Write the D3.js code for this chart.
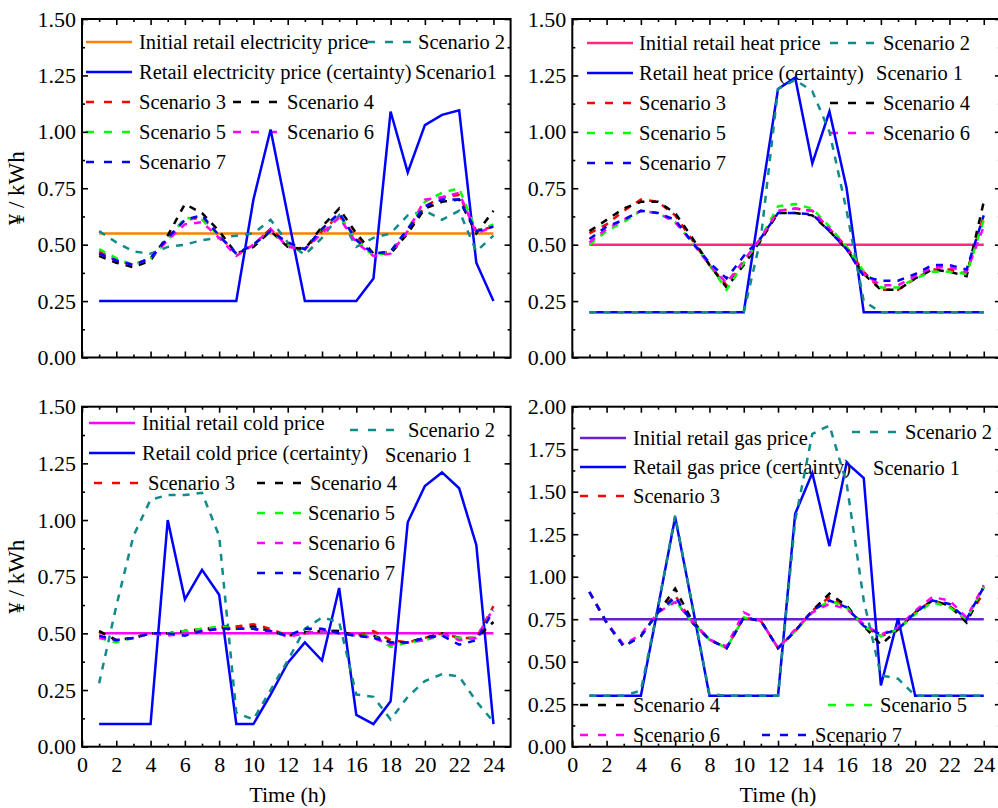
<!DOCTYPE html>
<html><head><meta charset="utf-8">
<script src="https://cdn.jsdelivr.net/npm/d3@7"></script>
<style>
body{margin:0;background:#fff}
text{font-family:"Liberation Serif","Times New Roman",serif;fill:#000}
</style>
</head><body>
<svg id="chart" width="998" height="808"></svg>
<script>
const hours = [1,2,3,4,5,6,7,8,9,10,11,12,13,14,15,16,17,18,19,20,21,22,23,24];
const xMajorTicks = [0,2,4,6,8,10,12,14,16,18,20,22,24];
const xMinorTicks = [1,3,5,7,9,11,13,15,17,19,21,23];
const yTicks15 = [0,0.25,0.5,0.75,1.0,1.25,1.5];
const yTicks20 = [0,0.25,0.5,0.75,1.0,1.25,1.5,1.75,2.0];

// ---- Electricity ----
const elecInit = [0.55,0.55,0.55,0.55,0.55,0.55,0.55,0.55,0.55,0.55,0.55,0.55,0.55,0.55,0.55,0.55,0.55,0.55,0.55,0.55,0.55,0.55,0.55,0.55];
const elecS1 = [0.25,0.25,0.25,0.25,0.25,0.25,0.25,0.25,0.25,0.70,1.01,0.63,0.25,0.25,0.25,0.25,0.35,1.09,0.82,1.03,1.075,1.095,0.42,0.25];
const elecS2 = [0.56,0.51,0.47,0.46,0.49,0.50,0.52,0.53,0.54,0.55,0.61,0.51,0.455,0.53,0.63,0.49,0.53,0.55,0.63,0.65,0.61,0.65,0.47,0.54];
const elecS3 = [0.47,0.43,0.41,0.44,0.53,0.61,0.62,0.54,0.46,0.50,0.57,0.50,0.48,0.56,0.63,0.53,0.46,0.47,0.56,0.67,0.71,0.72,0.56,0.58];
const elecS4 = [0.45,0.42,0.40,0.43,0.54,0.68,0.64,0.56,0.46,0.49,0.56,0.49,0.48,0.58,0.66,0.55,0.46,0.46,0.55,0.66,0.69,0.70,0.55,0.65];
const elecS5 = [0.48,0.44,0.41,0.44,0.52,0.62,0.61,0.54,0.46,0.50,0.56,0.50,0.48,0.57,0.63,0.52,0.45,0.47,0.57,0.69,0.73,0.75,0.56,0.59];
const elecS6 = [0.46,0.43,0.41,0.44,0.52,0.59,0.60,0.53,0.45,0.50,0.57,0.49,0.48,0.55,0.62,0.51,0.45,0.46,0.56,0.70,0.71,0.73,0.55,0.58];
const elecS7 = [0.46,0.43,0.41,0.44,0.53,0.61,0.63,0.54,0.46,0.50,0.56,0.51,0.48,0.57,0.64,0.52,0.46,0.47,0.57,0.67,0.70,0.70,0.56,0.58];

// ---- Heat ----
const heatInit = [0.5,0.5,0.5,0.5,0.5,0.5,0.5,0.5,0.5,0.5,0.5,0.5,0.5,0.5,0.5,0.5,0.5,0.5,0.5,0.5,0.5,0.5,0.5,0.5];
const heatS1 = [0.2,0.2,0.2,0.2,0.2,0.2,0.2,0.2,0.2,0.2,0.70,1.19,1.24,0.86,1.09,0.75,0.2,0.2,0.2,0.2,0.2,0.2,0.2,0.2];
const heatS2 = [0.2,0.2,0.2,0.2,0.2,0.2,0.2,0.2,0.2,0.2,0.53,1.19,1.23,1.18,1.00,0.65,0.25,0.2,0.2,0.2,0.2,0.2,0.2,0.2];
const heatS3 = [0.55,0.59,0.65,0.70,0.69,0.63,0.52,0.41,0.32,0.42,0.52,0.65,0.66,0.65,0.57,0.49,0.38,0.30,0.30,0.35,0.39,0.39,0.37,0.63];
const heatS4 = [0.56,0.61,0.66,0.69,0.69,0.64,0.53,0.41,0.31,0.41,0.52,0.64,0.64,0.63,0.56,0.48,0.37,0.30,0.30,0.35,0.39,0.38,0.36,0.69];
const heatS5 = [0.50,0.56,0.60,0.65,0.64,0.60,0.51,0.41,0.30,0.42,0.53,0.67,0.68,0.66,0.58,0.49,0.38,0.31,0.31,0.35,0.38,0.38,0.37,0.61];
const heatS6 = [0.51,0.57,0.61,0.65,0.64,0.60,0.51,0.41,0.33,0.43,0.53,0.65,0.66,0.65,0.57,0.48,0.37,0.32,0.32,0.36,0.40,0.40,0.38,0.58];
const heatS7 = [0.525,0.58,0.61,0.65,0.64,0.61,0.51,0.42,0.35,0.45,0.53,0.64,0.64,0.635,0.56,0.48,0.36,0.34,0.34,0.37,0.41,0.41,0.39,0.63];

// ---- Cold ----
const coldInit = [0.5,0.5,0.5,0.5,0.5,0.5,0.5,0.5,0.5,0.5,0.5,0.5,0.5,0.5,0.5,0.5,0.5,0.5,0.5,0.5,0.5,0.5,0.5,0.5];
const coldS1 = [0.10,0.10,0.10,0.10,1.00,0.65,0.78,0.67,0.10,0.10,0.23,0.37,0.46,0.38,0.70,0.14,0.10,0.20,0.99,1.15,1.21,1.14,0.89,0.10];
const coldS2 = [0.28,0.62,0.93,1.09,1.11,1.11,1.12,0.93,0.15,0.12,0.25,0.38,0.52,0.57,0.55,0.23,0.22,0.12,0.22,0.29,0.32,0.31,0.20,0.11];
const coldS3 = [0.51,0.47,0.48,0.50,0.50,0.51,0.51,0.53,0.53,0.54,0.52,0.49,0.50,0.51,0.51,0.49,0.51,0.47,0.46,0.48,0.50,0.48,0.48,0.62];
const coldS4 = [0.51,0.47,0.48,0.50,0.50,0.51,0.52,0.525,0.52,0.53,0.51,0.49,0.505,0.51,0.51,0.49,0.49,0.46,0.46,0.48,0.50,0.48,0.48,0.55];
const coldS5 = [0.48,0.46,0.48,0.50,0.50,0.51,0.52,0.53,0.52,0.52,0.51,0.49,0.50,0.51,0.50,0.49,0.49,0.44,0.46,0.47,0.49,0.48,0.48,0.61];
const coldS6 = [0.48,0.47,0.48,0.50,0.49,0.50,0.51,0.52,0.52,0.52,0.51,0.485,0.50,0.51,0.50,0.49,0.48,0.45,0.46,0.47,0.50,0.47,0.48,0.61];
const coldS7 = [0.49,0.47,0.48,0.50,0.50,0.49,0.51,0.52,0.52,0.52,0.51,0.49,0.52,0.52,0.50,0.49,0.48,0.46,0.46,0.48,0.49,0.45,0.47,0.60];

// ---- Gas ----
const gasInit = [0.75,0.75,0.75,0.75,0.75,0.75,0.75,0.75,0.75,0.75,0.75,0.75,0.75,0.75,0.75,0.75,0.75,0.75,0.75,0.75,0.75,0.75,0.75,0.75];
const gasS1 = [0.30,0.30,0.30,0.30,0.82,1.35,0.83,0.30,0.30,0.30,0.30,0.30,1.37,1.61,1.18,1.67,1.58,0.36,0.755,0.30,0.30,0.30,0.30,0.30];
const gasS2 = [0.30,0.30,0.30,0.33,0.82,1.36,0.83,0.31,0.30,0.30,0.30,0.30,1.33,1.84,1.89,1.55,0.86,0.42,0.40,0.30,0.30,0.30,0.30,0.30];
const gasS3 = [0.91,0.73,0.59,0.65,0.79,0.89,0.73,0.63,0.58,0.76,0.74,0.58,0.68,0.80,0.88,0.82,0.71,0.65,0.69,0.79,0.86,0.83,0.74,0.91];
const gasS4 = [0.91,0.73,0.59,0.65,0.79,0.93,0.74,0.63,0.58,0.76,0.74,0.58,0.68,0.80,0.90,0.83,0.71,0.60,0.69,0.79,0.86,0.83,0.73,0.94];
const gasS5 = [0.91,0.73,0.59,0.65,0.79,0.86,0.73,0.63,0.58,0.76,0.74,0.58,0.68,0.79,0.86,0.82,0.71,0.65,0.69,0.78,0.85,0.82,0.75,0.94];
const gasS6 = [0.91,0.73,0.60,0.66,0.79,0.85,0.74,0.63,0.59,0.79,0.74,0.58,0.69,0.79,0.84,0.81,0.72,0.66,0.70,0.80,0.88,0.86,0.76,0.95];
const gasS7 = [0.91,0.73,0.59,0.65,0.79,0.88,0.73,0.63,0.58,0.76,0.74,0.58,0.68,0.80,0.86,0.82,0.71,0.66,0.69,0.79,0.86,0.84,0.75,0.94];

const C = {
  s1:'#0000ff', s2:'#108a8a', s3:'#ff0000', s4:'#000000', s5:'#00ff00', s6:'#ff00ff', s7:'#0000ff',
  elec:'#ff8000', heat:'#ff2a80', cold:'#ff00ff', gas:'#6a1fc8'
};
const DASH = '7,7';

function seriesSet(init, initColor, s1,s2,s3,s4,s5,s6,s7){
  return [
    {values:init, color:initColor, dash:null},
    {values:s1, color:C.s1, dash:null},
    {values:s2, color:C.s2, dash:DASH},
    {values:s3, color:C.s3, dash:DASH},
    {values:s4, color:C.s4, dash:DASH},
    {values:s5, color:C.s5, dash:DASH},
    {values:s6, color:C.s6, dash:DASH},
    {values:s7, color:C.s7, dash:DASH}
  ];
}

const panels = [
  {left:82, top:19, height:338.5, ymax:1.5, yTicks:yTicks15, xLabels:false, yTitle:true,
   series: seriesSet(elecInit, C.elec, elecS1, elecS2, elecS3, elecS4, elecS5, elecS6, elecS7),
   legend:[
     {x:86, tx:139, y:42, label:'Initial retail electricity price', color:C.elec, dash:null},
     {x:367, tx:418, y:42, label:'Scenario 2', color:C.s2, dash:DASH},
     {x:86, tx:139, y:72, label:'Retail electricity price (certainty)', color:C.s1, dash:null},
     {x:null, tx:415, y:72, label:'Scenario1'},
     {x:86, tx:139, y:102, label:'Scenario 3', color:C.s3, dash:DASH},
     {x:233, tx:287, y:102, label:'Scenario 4', color:C.s4, dash:DASH},
     {x:86, tx:139, y:132, label:'Scenario 5', color:C.s5, dash:DASH},
     {x:233, tx:287, y:132, label:'Scenario 6', color:C.s6, dash:DASH},
     {x:86, tx:139, y:162, label:'Scenario 7', color:C.s7, dash:DASH}
   ]},
  {left:572.3, top:19, height:338.5, ymax:1.5, yTicks:yTicks15, xLabels:false, yTitle:false,
   series: seriesSet(heatInit, C.heat, heatS1, heatS2, heatS3, heatS4, heatS5, heatS6, heatS7),
   legend:[
     {x:587, tx:639, y:43, label:'Initial retail heat price', color:C.heat, dash:null},
     {x:830, tx:883, y:43, label:'Scenario 2', color:C.s2, dash:DASH},
     {x:587, tx:639, y:73, label:'Retail heat price (certainty)', color:C.s1, dash:null},
     {x:null, tx:876, y:73, label:'Scenario 1'},
     {x:587, tx:639, y:103, label:'Scenario 3', color:C.s3, dash:DASH},
     {x:830, tx:883, y:103, label:'Scenario 4', color:C.s4, dash:DASH},
     {x:587, tx:639, y:133, label:'Scenario 5', color:C.s5, dash:DASH},
     {x:830, tx:883, y:133, label:'Scenario 6', color:C.s6, dash:DASH},
     {x:587, tx:639, y:163, label:'Scenario 7', color:C.s7, dash:DASH}
   ]},
  {left:82, top:406.7, height:340, ymax:1.5, yTicks:yTicks15, xLabels:true, yTitle:true,
   series: seriesSet(coldInit, C.cold, coldS1, coldS2, coldS3, coldS4, coldS5, coldS6, coldS7),
   legend:[
     {x:89, tx:142, y:423, label:'Initial retail cold price', color:C.cold, dash:null},
     {x:350, tx:408, y:430, label:'Scenario 2', color:C.s2, dash:DASH},
     {x:89, tx:142, y:453, label:'Retail cold price (certainty)', color:C.s1, dash:null},
     {x:null, tx:385, y:455, label:'Scenario 1'},
     {x:94, tx:148, y:483, label:'Scenario 3', color:C.s3, dash:DASH},
     {x:257, tx:310, y:483, label:'Scenario 4', color:C.s4, dash:DASH},
     {x:257, tx:308, y:513, label:'Scenario 5', color:C.s5, dash:DASH},
     {x:257, tx:308, y:543, label:'Scenario 6', color:C.s6, dash:DASH},
     {x:257, tx:308, y:573, label:'Scenario 7', color:C.s7, dash:DASH}
   ]},
  {left:572.3, top:406.7, height:340, ymax:2.0, yTicks:yTicks20, xLabels:true, yTitle:false,
   series: seriesSet(gasInit, C.gas, gasS1, gasS2, gasS3, gasS4, gasS5, gasS6, gasS7),
   legend:[
     {x:580, tx:633, y:438, label:'Initial retail gas price', color:C.gas, dash:null},
     {x:852, tx:905, y:432, label:'Scenario 2', color:C.s2, dash:DASH},
     {x:580, tx:633, y:467, label:'Retail gas price (certainty)', color:C.s1, dash:null},
     {x:null, tx:873, y:468, label:'Scenario 1'},
     {x:580, tx:633, y:496, label:'Scenario 3', color:C.s3, dash:DASH},
     {x:580, tx:633, y:705, label:'Scenario 4', color:C.s4, dash:DASH},
     {x:828, tx:880, y:705, label:'Scenario 5', color:C.s5, dash:DASH},
     {x:580, tx:633, y:735, label:'Scenario 6', color:C.s6, dash:DASH},
     {x:762, tx:815, y:735, label:'Scenario 7', color:C.s7, dash:DASH}
   ]}
];

const svg = d3.select('#chart');
const PW = 428.6;

panels.forEach(p => {
  const x = d3.scaleLinear().domain([0,25]).range([p.left, p.left + PW]);
  const y = d3.scaleLinear().domain([0,p.ymax]).range([p.top + p.height, p.top]);
  const g = svg.append('g');
  const bottom = p.top + p.height, right = p.left + PW;

  // legend (drawn beneath lines)
  const lg = g.append('g');
  p.legend.forEach(l => {
    if (l.x !== null) {
      lg.append('line').attr('x1', l.x).attr('x2', l.x + 46).attr('y1', l.y).attr('y2', l.y)
        .attr('stroke', l.color).attr('stroke-width', 2.5)
        .attr('stroke-dasharray', l.dash ? '8,10' : null);
    }
    lg.append('text').attr('x', l.tx).attr('y', l.y).attr('dy', '0.33em')
      .attr('font-size', 20.5).text(l.label);
  });

  // axes
  const fmt = d3.format('.2f');
  const yMinor = d3.range(0.125, p.ymax, 0.25);
  g.append('g').attr('transform', `translate(0,${bottom})`)
    .call(d3.axisBottom(x).tickValues(xMajorTicks).tickSize(-6).tickPadding(10)
      .tickFormat(p.xLabels ? d3.format('d') : ''));
  g.append('g').attr('transform', `translate(0,${bottom})`)
    .call(d3.axisBottom(x).tickValues(xMinorTicks).tickSize(-3).tickFormat(''));
  g.append('g').attr('transform', `translate(0,${p.top})`)
    .call(d3.axisTop(x).tickValues(xMajorTicks).tickSize(-6).tickFormat(''));
  g.append('g').attr('transform', `translate(0,${p.top})`)
    .call(d3.axisTop(x).tickValues(xMinorTicks).tickSize(-3).tickFormat(''));
  g.append('g').attr('transform', `translate(${p.left},0)`)
    .call(d3.axisLeft(y).tickValues(p.yTicks).tickSize(-6).tickPadding(6).tickFormat(fmt));
  g.append('g').attr('transform', `translate(${p.left},0)`)
    .call(d3.axisLeft(y).tickValues(yMinor).tickSize(-3).tickFormat(''));
  g.append('g').attr('transform', `translate(${right},0)`)
    .call(d3.axisRight(y).tickValues(p.yTicks).tickSize(-6).tickFormat(''));
  g.append('g').attr('transform', `translate(${right},0)`)
    .call(d3.axisRight(y).tickValues(yMinor).tickSize(-3).tickFormat(''));
  g.selectAll('.domain').remove();
  g.selectAll('.tick line').attr('stroke', '#000').attr('stroke-width', 1.6);
  g.selectAll('.tick text').attr('font-size', 22).attr('font-family', '"Liberation Serif","Times New Roman",serif').attr('fill', '#000');

  // series lines
  const line = d3.line().x((d,i) => x(hours[i])).y(d => y(d));
  p.series.forEach(s => {
    g.append('path').datum(s.values).attr('d', line)
      .attr('fill', 'none').attr('stroke', s.color).attr('stroke-width', 2.5)
      .attr('stroke-linejoin', 'miter')
      .attr('stroke-dasharray', s.dash);
  });

  // frame
  g.append('rect').attr('x', p.left).attr('y', p.top).attr('width', PW).attr('height', p.height)
    .attr('fill', 'none').attr('stroke', '#000').attr('stroke-width', 2);

  if (p.xLabels) {
    g.append('text').attr('x', x(12)).attr('y', 802).attr('text-anchor', 'middle')
      .attr('font-size', 22).text('Time (h)');
  }
  if (p.yTitle) {
    g.append('text').attr('transform', `translate(24,${p.top + p.height/2}) rotate(-90)`)
      .attr('text-anchor', 'middle').attr('font-size', 23).text('¥ / kWh');
  }
});
</script>
</body></html>
